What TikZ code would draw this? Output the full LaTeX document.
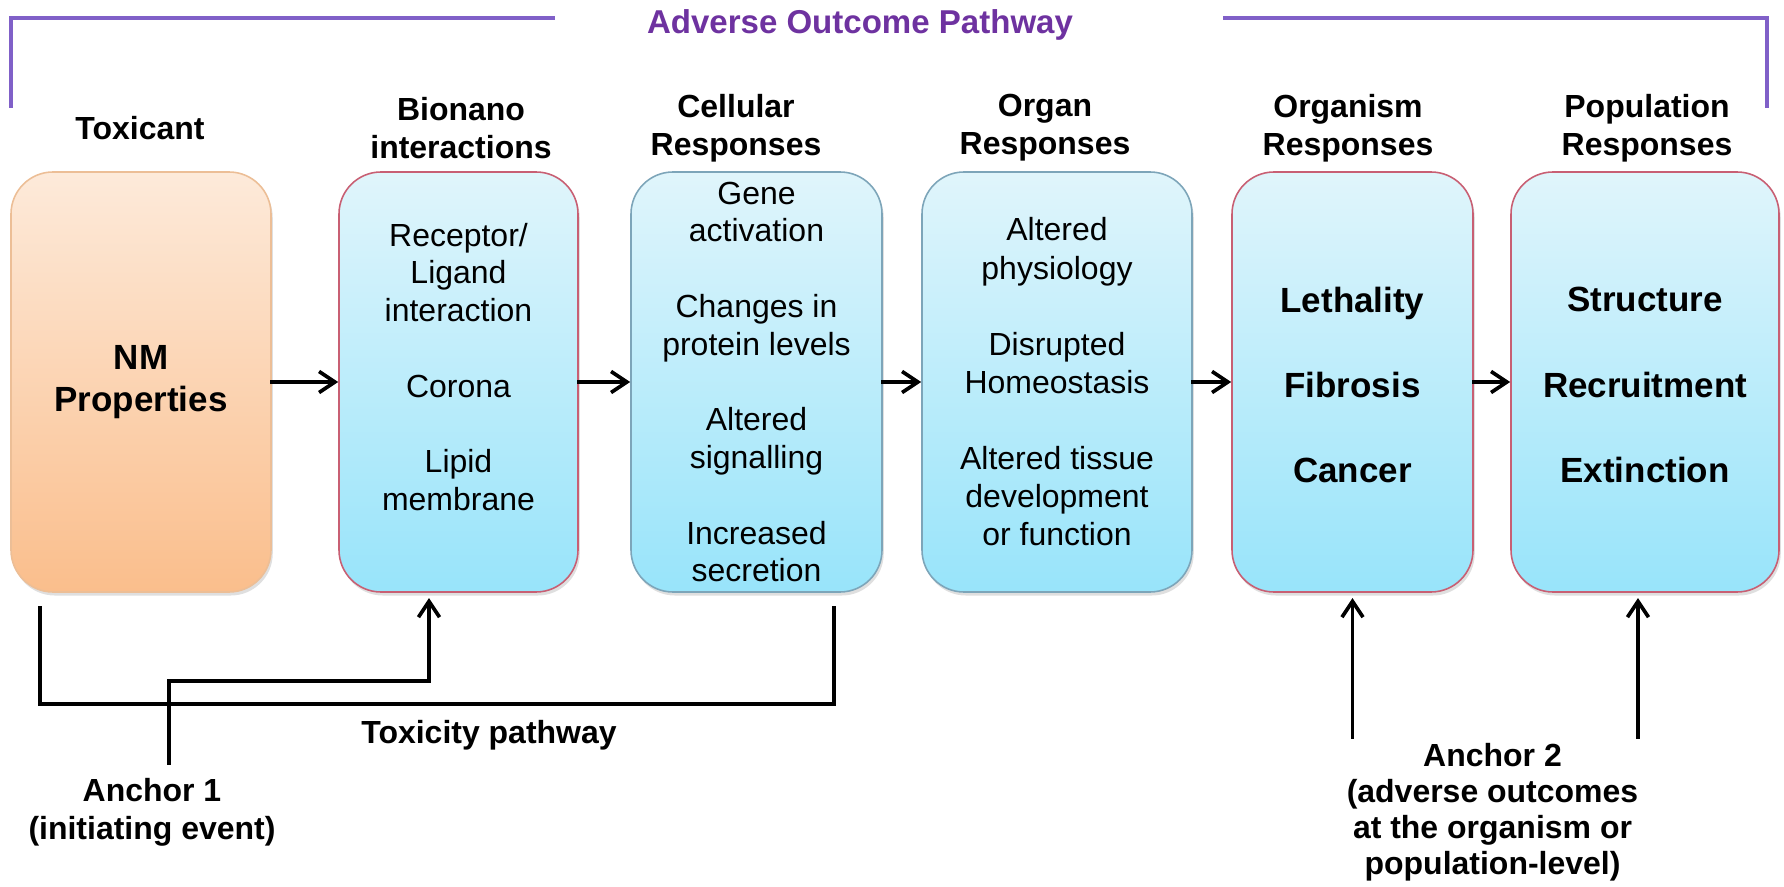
\documentclass[tikz,border=0pt]{standalone}
\usepackage{fontspec}
\setmainfont{Liberation Sans}
\usetikzlibrary{arrows.meta,shadows}

\definecolor{peachtop}{RGB}{253,234,218}
\definecolor{peachbot}{RGB}{250,190,140}
\definecolor{peachline}{RGB}{236,190,150}
\definecolor{bluetop}{RGB}{224,245,251}
\definecolor{bluebot}{RGB}{152,228,250}
\definecolor{pinkline}{RGB}{200,95,115}
\definecolor{greyline}{RGB}{125,165,185}
\definecolor{aopline}{RGB}{128,96,200}
\definecolor{aoptext}{RGB}{110,50,160}

\begin{document}
\begin{tikzpicture}[>={Straight Barb[length=9pt,width=12pt]},
  head/.style={font=\fontsize{18.2}{21.5}\selectfont\bfseries,align=center,inner sep=0pt},
  item/.style={font=\fontsize{18.2}{21.5}\selectfont,align=center,inner sep=0pt},
  keyitem/.style={font=\fontsize{19.9}{24.2}\selectfont\bfseries,align=center,inner sep=0pt},
  box/.style={rounded corners=0.84cm,minimum height=8.4cm,line width=0.9pt,
    drop shadow={shadow xshift=1pt,shadow yshift=-2pt,opacity=0.25}},
  peachbox/.style={box,draw=peachline,top color=peachtop,bottom color=peachbot},
  bluebox/.style={box,top color=bluetop,bottom color=bluebot},
  wire/.style={line width=2.1pt,line cap=rect}]
  \useasboundingbox (0,0) rectangle (35.68,17.72);

  % adverse outcome pathway bracket
  \node[head,font=\fontsize{18.8}{22}\selectfont\bfseries,text=aoptext,anchor=base] (aop) at (17.20,17.04) {Adverse Outcome Pathway};
  \draw[aopline,line width=2.3pt] (0.22,15.56) |- (11.10,17.36);
  \draw[aopline,line width=2.3pt] (24.46,17.36) -| (35.34,15.56);

  % level headings
  \node[head] (h-tox) at (2.80,15.16) {Toxicant};
  \node[head] (h-bio) at (9.22,15.16) {Bionano\\interactions};
  \node[head] (h-cell) at (14.72,15.16) {Cellular\\Responses};
  \node[head] (h-organ) at (20.90,15.16) {Organ\\Responses};
  \node[head] (h-orgm) at (26.96,15.16) {Organism\\Responses};
  \node[head] (h-pop) at (32.94,15.16) {Population\\Responses};

  % boxes
  \node[peachbox,minimum width=5.20cm] (tox) at (2.82,10.08) {};
  \node[bluebox,draw=pinkline,minimum width=4.78cm] (bio) at (9.17,10.08) {};
  \node[bluebox,draw=greyline,minimum width=5.02cm] (cell) at (15.13,10.08) {};
  \node[bluebox,draw=greyline,minimum width=5.40cm] (organ) at (21.14,10.08) {};
  \node[bluebox,draw=pinkline,minimum width=4.82cm] (orgm) at (27.05,10.08) {};
  \node[bluebox,draw=pinkline,minimum width=5.36cm] (pop) at (32.90,10.08) {};

  % box contents
  \node[keyitem,font=\fontsize{19.9}{23.9}\selectfont\bfseries] (tox-t) at (tox) {NM\\Properties};
  \node[item] (bio-t) at ([yshift=0.3cm]bio.center) {Receptor/\\Ligand\\interaction\\[21.5pt]Corona\\[21.5pt]Lipid\\membrane};
  \node[item] (cell-t) at (cell) {Gene\\activation\\[21.5pt]Changes in\\protein levels\\[21.5pt]Altered\\signalling\\[21.5pt]Increased\\secretion};
  \node[item,font=\fontsize{18.2}{21.7}\selectfont] (organ-t) at (organ) {Altered\\physiology\\[21.7pt]Disrupted\\Homeostasis\\[21.7pt]Altered tissue\\development\\or function};
  \node[keyitem] (orgm-t) at ([yshift=-0.06cm]orgm.center) {Lethality\\[24.2pt]Fibrosis\\[24.2pt]Cancer};
  \node[keyitem] (pop-t) at ([yshift=-0.06cm]pop.center) {Structure\\[24.2pt]Recruitment\\[24.2pt]Extinction};

  % flow between levels
  \foreach \a/\b in {tox/bio,bio/cell,cell/organ,organ/orgm,orgm/pop}
    \draw[wire,->] (\a) -- (\b);

  % toxicity pathway
  \coordinate (tp-a) at (0.80,5.56);
  \coordinate (tp-b) at (16.68,5.56);
  \draw[wire] (tp-a) -- ++(0,-1.92) -| (tp-b);
  \node[head,anchor=base] (tpath) at (9.78,2.86) {Toxicity pathway};

  % anchor 1
  \node[head] (anc1) at (3.04,1.48) {Anchor 1\\(initiating event)};
  \coordinate (a1) at (3.38,2.46);
  \draw[wire,->] (a1) -- ++(0,1.64) -| ([xshift=-0.59cm,yshift=-3pt]bio.south);

  % anchor 2
  \node[head,font=\fontsize{18.2}{20.5}\selectfont\bfseries] (anc2) at (29.85,1.47) {Anchor 2\\(adverse outcomes\\at the organism or\\population-level)};
  \coordinate (a2-l) at (27.05,2.98);
  \coordinate (a2-r) at (32.76,2.98);
  \draw[wire,->] (a2-l) -- ([yshift=-3pt]orgm.south);
  \draw[wire,->] (a2-r) -- ([yshift=-3pt]a2-r |- pop.south);
\end{tikzpicture}
\end{document}
